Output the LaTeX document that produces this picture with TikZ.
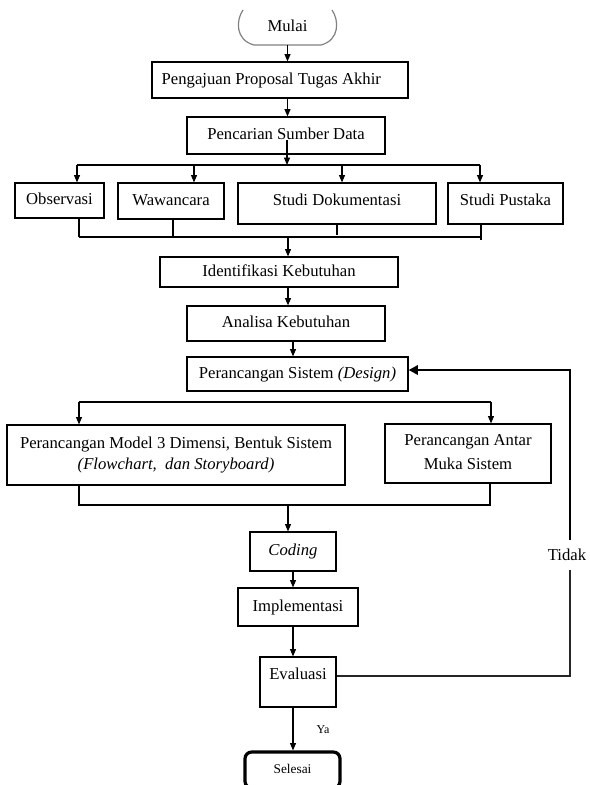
\documentclass[tikz,border=0pt]{standalone}
\usepackage{fontspec}
\setmainfont{Liberation Serif}
\usetikzlibrary{arrows.meta}
\begin{document}
\begin{tikzpicture}[x=0.75pt,y=-0.75pt,
  box/.style={draw, line width=0.9pt, inner sep=0pt, text height=9pt, text depth=2.5pt, font=\fontsize{12.5pt}{15pt}\selectfont},
  mbox/.style={draw, line width=0.9pt, inner sep=0pt, font=\fontsize{12.5pt}{15pt}\selectfont},
  arr/.style={-{Triangle[length=5.5pt,width=4.5pt]}, line width=0.8pt},
  ln/.style={line width=0.8pt},
  busln/.style={line width=1.3pt},
  fb/.style={line width=2.2pt, -{Triangle[length=7pt,width=7pt]}},
  fbln/.style={line width=1.6pt, draw=black!85}]
\useasboundingbox (0,0) rectangle (589,785);

% nodes
\node[inner sep=0pt, minimum width=74.25pt, minimum height=26.25pt, text height=9pt, text depth=2.5pt, font=\fontsize{12.5pt}{15pt}\selectfont] (mulai) at (287.5,27.5) {Mulai};
\draw[gray, line width=0.9pt] (243,10) .. controls (236,20) and (235,40) .. (254,45) -- (321,45) .. controls (340,40) and (339,20) .. (332,10);
\node[box, minimum width=192pt, minimum height=27pt] (peng) at (280,80) {Pengajuan Proposal Tugas Akhir\hspace*{13pt}};
\node[box, minimum width=148.5pt, minimum height=27.75pt] (penc) at (286,135.5) {Pencarian Sumber Data};
\node[box, minimum width=66.75pt, minimum height=26.25pt] (obs) at (59.5,200.5) {Observasi};
\node[box, minimum width=79.5pt, minimum height=27pt] (waw) at (171,201) {Wawancara};
\node[box, minimum width=148.5pt, minimum height=30.75pt, text depth=6.3pt] (dok) at (337,203.5) {Studi Dokumentasi};
\node[box, minimum width=86.25pt, minimum height=30.75pt, text depth=6.3pt] (pus) at (505.5,203.5) {Studi Pustaka};
\node[box, minimum width=178.5pt, minimum height=22.5pt] (iden) at (279,272) {Identifikasi Kebutuhan};
\node[box, minimum width=148.5pt, minimum height=26.25pt] (anal) at (286,323.5) {Analisa Kebutuhan};
\node[box, minimum width=165.75pt, minimum height=25.5pt] (des) at (297.5,374) {Perancangan Sistem \textit{(Design)}};
\node[mbox, minimum width=253.5pt, minimum height=45pt] (model) at (176,455) {\begin{tabular}{@{}c@{}}Perancangan Model 3 Dimensi, Bentuk Sistem\\[0.75pt]\textit{(Flowchart,\ \ dan Storyboard)}\end{tabular}};
\node[mbox, minimum width=124.5pt, minimum height=44.25pt] (antar) at (468,453.5) {\begin{tabular}{@{}c@{}}Perancangan Antar\\[3pt]Muka Sistem\end{tabular}};
\node[box, minimum width=64.5pt, minimum height=29.25pt] (cod) at (293,551.5) {\textit{Coding}};
\node[box, minimum width=90pt, minimum height=28.5pt] (impl) at (298,607) {Implementasi};
\node[box, minimum width=57pt, minimum height=37.5pt, text depth=13pt] (eval) at (298,682) {Evaluasi};
\node[box, minimum width=71.25pt, minimum height=27pt, rounded corners=5pt, line width=2.4pt, text height=7pt, text depth=2pt, font=\fontsize{10pt}{12pt}\selectfont] (sel) at (292.5,770) {Selesai};
\node[inner xsep=1pt, inner ysep=7pt, font=\fontsize{12.5pt}{15pt}\selectfont] (tid) at (567,555) {Tidak};
\node[inner sep=1pt, font=\fontsize{9pt}{11pt}\selectfont] (ya) at (323,730) {Ya};

% coordinates
\coordinate (pc) at (287,140);
\coordinate (bus) at (287,165);
\coordinate (d1) at (77,165);
\coordinate (d2) at (194,165);
\coordinate (d3) at (342,165);
\coordinate (d4) at (480,165);
\coordinate (u1) at (79,237);
\coordinate (u2) at (173,237);
\coordinate (u3) at (337,235);
\coordinate (u4) at (481,240);
\coordinate (m1) at (288,237);
\coordinate (ml) at (79,237);
\coordinate (mr) at (482,237);
\coordinate (bl) at (79,402);
\coordinate (br) at (491,402);
\coordinate (cl) at (79,505);
\coordinate (cr) at (490,505);
\coordinate (cm) at (288,505);
\coordinate (ax) at (293,0);
\coordinate (fx) at (570,0);
\coordinate (er) at ([yshift=4.5pt]eval.east);
\coordinate (dr) at ([yshift=3pt]des.east);

% connectors
\draw[arr] (mulai.south) -- (mulai.south |- peng.north);
\draw[arr] (mulai.south |- peng.south) -- (mulai.south |- penc.north);
\draw[arr] (pc) -- (bus);
\draw[busln] (d1) -- (d4);
\draw[arr] (d1) -- (d1 |- obs.north);
\draw[arr] (d2) -- (d2 |- waw.north);
\draw[arr] (d3) -- (d3 |- dok.north);
\draw[arr] (d4) -- (d4 |- pus.north);

\draw[ln] (u1 |- obs.south) -- (u1);
\draw[ln] (u2 |- waw.south) -- (u2);
\draw[ln] (u3 |- dok.south) -- (u3);
\draw[ln] (u4 |- pus.south) -- (u4);
\draw[busln] (ml) -- (mr);
\draw[arr] (m1) -- (m1 |- iden.north);
\draw[arr] (m1 |- iden.south) -- (m1 |- anal.north);
\draw[arr] (ax |- anal.south) -- (ax |- des.north);

\draw[busln] (bl) -- (br);
\draw[arr] (bl) -- (bl |- model.north);
\draw[arr] (br) -- (br |- antar.north);

\draw[ln] (cl |- model.south) -- (cl) -- (cr) -- (cr |- antar.south);
\draw[arr] (cm) -- (cm |- cod.north);
\draw[arr] (ax |- cod.south) -- (ax |- impl.north);
\draw[arr] (ax |- impl.south) -- (ax |- eval.north);
\draw[arr] (ax |- eval.south) -- (ax |- sel.north);

\draw[fbln] (er) -- (fx |- er) -- (fx |- tid.south);
\draw[fb] (fx |- tid.north) |- (dr);
\end{tikzpicture}
\end{document}
